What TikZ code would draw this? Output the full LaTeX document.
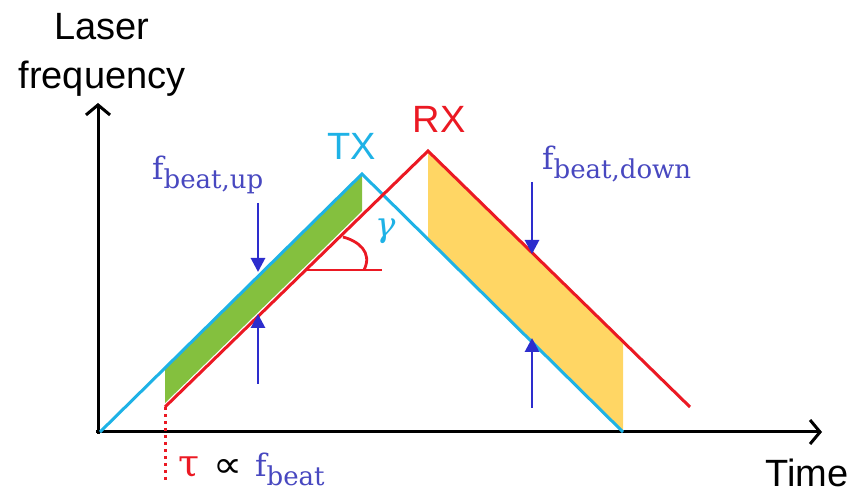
\documentclass[tikz,border=0pt]{standalone}
\usepackage{fontspec}
\setmainfont{Liberation Sans}
\newfontfamily\serifm{DejaVu Serif}
\newfontfamily\symf{DejaVu Sans}
\usetikzlibrary{arrows.meta}
\definecolor{txcol}{RGB}{30,178,230}
\definecolor{rxcol}{RGB}{235,25,35}
\definecolor{grfill}{RGB}{132,192,62}
\definecolor{yefill}{RGB}{255,214,100}
\definecolor{arblue}{RGB}{45,45,205}
\definecolor{lbblue}{RGB}{72,72,192}
\tikzset{
  axisline/.style={line width=3pt, -{Straight Barb[length=10pt,width=24pt]}},
  sigline/.style={line width=3pt, line join=miter},
  beatarrow/.style={arblue, line width=2.8pt, -{Triangle[length=14pt,width=14pt]}},
  biglabel/.style={font=\fontsize{38}{49}\selectfont, inner sep=0pt},
  mlabel/.style={lbblue, inner sep=0pt, anchor=base west},
}
\newcommand{\fbeat}[1]{{\serifm\fontsize{31}{31}\selectfont f}\raisebox{-9pt}{\serifm\fontsize{26}{26}\selectfont #1}}
\begin{document}
\begin{tikzpicture}[x=1pt,y=-1pt]
\useasboundingbox (0,0) rectangle (855,494);
% key points
\coordinate (Ytop) at (98,103);
\coordinate (Xend) at (822,432);
\coordinate (T0) at (100,432);
\coordinate (Tp) at (362,174);
\coordinate (T1) at (623,432);
\coordinate (R0) at (165,407);
\coordinate (Rp) at (428,151);
\coordinate (R1) at (690,407);
% fills
\fill[grfill] (165,368) -- (Tp) -- (362,211) -- (165,403) -- cycle;
\fill[yefill] (Rp) -- (623,341) -- (T1) -- (428,239) -- cycle;
% axes
\draw[axisline] (98,434) -- (Ytop);
\draw[axisline] (96,432) -- (Xend);
% signals
\draw[sigline, txcol] (T0) -- (Tp) -- (T1);
\draw[sigline, rxcol] (R0) -- (Rp) -- (R1);
% tau dotted marker
\coordinate (Tau) at (165,480);
\draw[rxcol, line width=3pt, dash pattern=on 3pt off 4pt] (R0) -- (Tau);
% gamma angle
\coordinate (V) at (306,270);
\coordinate (H) at (382,270);
\draw[rxcol, line width=2.8pt] (V) -- (H);
\draw[rxcol, line width=2.8pt] (343,237) .. controls (358,241) and (373,252) .. (364,270);
\node[txcol, inner sep=0pt] (gam) at (386,231) {\serifm\itshape\fontsize{34}{34}\selectfont γ};
% beat arrows
\coordinate (ua1) at (258,203); \coordinate (ua2) at (258,272);
\coordinate (ub1) at (258,384); \coordinate (ub2) at (258,314);
\coordinate (da1) at (532,182); \coordinate (da2) at (532,254);
\coordinate (db1) at (532,408); \coordinate (db2) at (532,338);
\draw[beatarrow] (ua1) -- (ua2);
\draw[beatarrow] (ub1) -- (ub2);
\draw[beatarrow] (da1) -- (da2);
\draw[beatarrow] (db1) -- (db2);
% labels
\node[biglabel, anchor=base] (yl1) at (102,40) {Laser};
\node[biglabel, anchor=base] (yl2) at (102,89) {frequency};
\node[biglabel, anchor=base] (xl) at (807,486) {Time};
\node[biglabel, txcol, anchor=base] (tx) at (352,160) {TX};
\node[biglabel, rxcol, anchor=base] (rx) at (439,133) {RX};
\node[mlabel] (fup) at (152,180) {\fbeat{beat,up}};
\node[mlabel] (fdown) at (542,170) {\fbeat{beat,down}};
\node[inner sep=0pt, anchor=base west] (taul) at (178,477) {{\color{rxcol}\serifm\fontsize{38}{38}\selectfont τ}\hspace{14pt}\resizebox{29pt}{18pt}{\symf ∝}\hspace{13pt}{\color{lbblue}\fbeat{beat}}};
\end{tikzpicture}
\end{document}
